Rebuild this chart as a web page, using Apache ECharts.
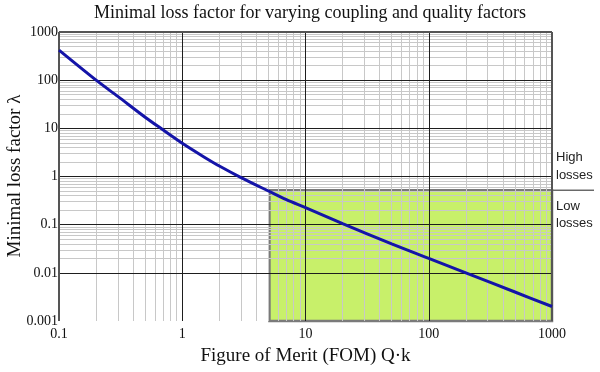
<!DOCTYPE html>
<html><head><meta charset="utf-8">
<script src="https://cdn.jsdelivr.net/npm/echarts@6/dist/echarts.min.js"></script>
<style>html,body{margin:0;padding:0;background:#fff}#c{width:600px;height:372px}</style>
</head><body><div id="c"></div>
<script>
// ---- data ----
const xValues = [0.1, 0.2, 0.3, 0.5, 0.67, 1, 1.5, 2, 3, 5, 7, 10, 20, 50, 100, 200, 500, 1000];
const lossValues = [420, 100, 46, 17, 10, 4.9, 2.55, 1.65, 0.95, 0.5, 0.33, 0.225, 0.105, 0.04, 0.02, 0.01, 0.004, 0.002];
const xTickValues = [0.1, 1, 10, 100, 1000];
const xTickLabels = ['0.1', '1', '10', '100', '1000'];
const yTickValues = [0.001, 0.01, 0.1, 1, 10, 100, 1000];
const yTickLabels = ['0.001', '0.01', '0.1', '1', '10', '100', '1000'];
const minorMultipliers = [2, 3, 4, 5, 6, 7, 8, 9];
const lowLossCorner = [5.1, 0.52];
const highLabel = ['High', 'losses'];
const lowLabel = ['Low', 'losses'];
const titleText = 'Minimal loss factor for varying coupling and quality factors';
const xName = 'Figure of Merit (FOM) Q\u00B7k';
const yName = 'Minimal loss factor \u03BB';

const SERIF = '"Liberation Serif", "Times New Roman", serif';
const SANS = '"Liberation Sans", Arial, sans-serif';

function fmt(ticks, labels) {
  return function (v) {
    for (let i = 0; i < ticks.length; i++) {
      if (Math.abs(Math.log10(v) - Math.log10(ticks[i])) < 1e-6) return labels[i];
    }
    return '';
  };
}
function minorOf(ticks) {
  const out = [];
  for (let i = 0; i < ticks.length - 1; i++) minorMultipliers.forEach(m => out.push(m * ticks[i]));
  return out;
}
const xMinor = minorOf(xTickValues), yMinor = minorOf(yTickValues);
const xMajor = xTickValues.slice(1, -1), yMajor = yTickValues.slice(1, -1);
const xMin = xTickValues[0], xMax = xTickValues[xTickValues.length - 1];
const yMin = yTickValues[0], yMax = yTickValues[yTickValues.length - 1];

function lines(xs, ys) {
  return xs.map(v => ({ xAxis: v })).concat(ys.map(v => ({ yAxis: v })));
}
function gridSeries(xs, ys, color, width, z) {
  return {
    type: 'line', data: [], silent: true, z: z,
    markLine: {
      silent: true, z: z, symbol: ['none', 'none'], animation: false,
      label: { show: false }, emphasis: { disabled: true },
      lineStyle: { color: color, width: width, type: 'solid' },
      data: lines(xs, ys)
    }
  };
}

const chart = echarts.init(document.getElementById('c'));
chart.setOption({
  animation: false,
  backgroundColor: '#fff',
  grid: { left: 59, top: 32, width: 493, height: 289, show: false, containLabel: false, outerBoundsMode: 'none' },
  xAxis: {
    type: 'log', logBase: 10, min: xMin, max: xMax,
    axisLine: { show: false }, axisTick: { show: false }, splitLine: { show: false },
    axisLabel: { formatter: fmt(xTickValues, xTickLabels), fontFamily: SERIF, fontSize: 14, color: '#111', margin: 6, showMinLabel: true, showMaxLabel: true },
    name: xName, nameLocation: 'middle', nameGap: 26,
    nameTextStyle: { fontFamily: SERIF, fontSize: 19, color: '#111' }
  },
  yAxis: {
    type: 'log', logBase: 10, min: yMin, max: yMax,
    axisLine: { show: false }, axisTick: { show: false }, splitLine: { show: false },
    axisLabel: { formatter: fmt(yTickValues, yTickLabels), fontFamily: SERIF, fontSize: 14, color: '#111', margin: 1, showMinLabel: true, showMaxLabel: true }
  },
  series: [
    {
      type: 'line', data: [], silent: true, z: 1,
      markArea: {
        silent: true, z: 1,
        itemStyle: { color: '#c8f06a', borderColor: '#7a7a7a', borderWidth: 2.5 },
        data: [[{ xAxis: lowLossCorner[0], yAxis: lowLossCorner[1] }, { xAxis: xMax, yAxis: yMin }]]
      }
    },
    gridSeries(xMinor, yMinor, '#c8c8c8', 1, 2),
    gridSeries(xMajor, yMajor, '#1e1e1e', 1, 3),
    gridSeries([xMin, xMax], [yMin, yMax], '#555', 2, 4),
    {
      type: 'line', z: 10, silent: true,
      data: xValues.map((x, i) => [x, lossValues[i]]),
      showSymbol: false, smooth: 0.3,
      lineStyle: { color: '#1414a8', width: 3 }
    }
  ]
});

const yPix = chart.convertToPixel({ gridIndex: 0 }, [xMax, lowLossCorner[1]])[1];
const xRight = chart.convertToPixel({ gridIndex: 0 }, [xMax, lowLossCorner[1]])[0];
const ts = { fontFamily: SANS, fontSize: 13, fill: '#222', textVerticalAlign: 'middle' };
chart.setOption({
  graphic: [
    { type: 'text', x: 310, y: 4, style: { text: titleText, fontFamily: SERIF, fontSize: 18, fill: '#111', textAlign: 'center', textVerticalAlign: 'top' } },
    { type: 'text', x: 15, y: 176, rotation: Math.PI / 2, style: { text: yName, fontFamily: SERIF, fontSize: 19, fill: '#111', textAlign: 'center', textVerticalAlign: 'middle' } },
    { type: 'line', shape: { x1: xRight + 1, y1: yPix, x2: 594, y2: yPix }, style: { stroke: '#222', lineWidth: 1 } },
    { type: 'text', x: 556, y: yPix - 33, style: Object.assign({ text: highLabel[0] }, ts) },
    { type: 'text', x: 556, y: yPix - 15, style: Object.assign({ text: highLabel[1] }, ts) },
    { type: 'text', x: 556, y: yPix + 16, style: Object.assign({ text: lowLabel[0] }, ts) },
    { type: 'text', x: 556, y: yPix + 33, style: Object.assign({ text: lowLabel[1] }, ts) }
  ]
});
</script></body></html>
